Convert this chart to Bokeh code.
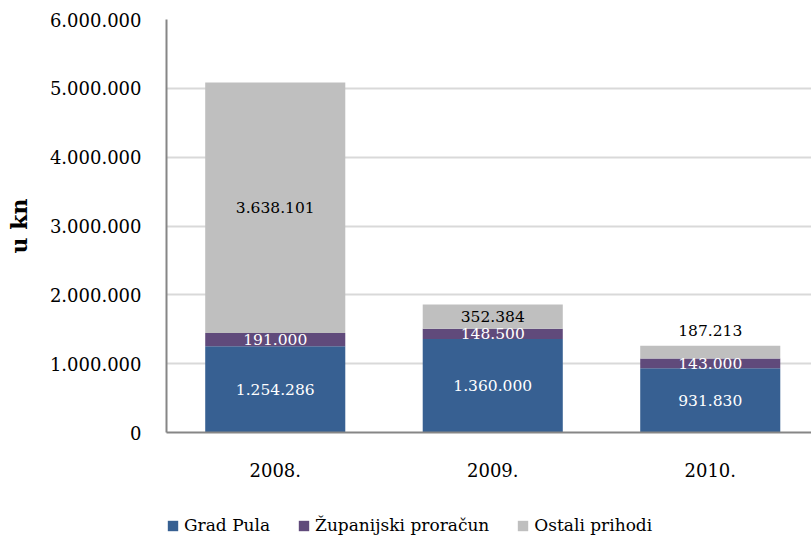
import numpy as np
from bokeh.plotting import figure
from bokeh.layouts import column
from bokeh.models import (ColumnDataSource, Range1d, FixedTicker, Legend, LegendItem)
from bokeh.core.properties import value
from bokeh.embed import file_html
from bokeh.resources import INLINE

# ---- data ----
years = ["2008.", "2009.", "2010."]
series_names = ["Grad Pula", "Županijski proračun", "Ostali prihodi"]
grad_pula = [1254286, 1360000, 931830]
zupanijski = [191000, 148500, 143000]
ostali = [3638101, 352384, 187213]
label_texts = {
    "Grad Pula": ["1.254.286", "1.360.000", "931.830"],
    "Županijski proračun": ["191.000", "148.500", "143.000"],
    "Ostali prihodi": ["3.638.101", "352.384", "187.213"],
}
y_ticks = [0, 1000000, 2000000, 3000000, 4000000, 5000000, 6000000]
y_tick_labels = ["0", "1.000.000", "2.000.000", "3.000.000", "4.000.000", "5.000.000", "6.000.000"]

colors = ["#376092", "#604A7B", "#BFBFBF"]
label_colors = ["white", "white", "black"]
FONT = "DejaVu Serif"

n = len(years)
xs = np.arange(n) + 0.5
series = [grad_pula, zupanijski, ostali]

MAIN_H = 505
p = figure(width=811, height=MAIN_H, output_backend="svg", toolbar_location=None,
           x_range=Range1d(0, 3 * 645 / 652.5), y_range=Range1d(0, 6000000),
           min_border_left=166, min_border_right=0, min_border_top=19,
           min_border_bottom=MAIN_H - 432)
p.outline_line_color = None
p.background_fill_color = "white"

bottoms = np.zeros(n)
for name, vals, col in zip(series_names, series, colors):
    vals = np.array(vals, dtype=float)
    src = ColumnDataSource(dict(x=xs, bottom=bottoms, top=bottoms + vals))
    p.vbar(x="x", bottom="bottom", top="top", width=0.644, source=src,
           fill_color=col, line_color=None)
    bottoms = bottoms + vals

# data labels
bottoms = np.zeros(n)
last = series_names[-1]
for name, vals, lc in zip(series_names, series, label_colors):
    vals = np.array(vals, dtype=float)
    centers = bottoms + vals / 2
    tops = bottoms + vals
    if name == last:
        small = vals < 200000
    else:
        small = np.zeros(n, dtype=bool)
    ys = np.where(small, tops, centers)
    offs = np.where(small, -15, 0)
    src = ColumnDataSource(dict(x=xs, y=ys, t=label_texts[name], off=offs))
    p.text(x="x", y="y", text="t", source=src, y_offset="off",
           text_font=value(FONT), text_font_size="15.5px", text_color=lc,
           text_align="center", text_baseline="middle")
    bottoms = tops

# axes
p.xaxis.ticker = FixedTicker(ticks=list(xs))
p.xaxis.major_label_overrides = {float(x): y for x, y in zip(xs, years)}
p.yaxis.ticker = FixedTicker(ticks=y_ticks)
p.yaxis.major_label_overrides = {t: l for t, l in zip(y_ticks, y_tick_labels)}

for ax in (p.xaxis, p.yaxis):
    ax.axis_line_color = "#868686"
    ax.axis_line_width = 2
    ax.major_tick_line_color = None
    ax.minor_tick_line_color = None
    ax.major_label_text_font = FONT
    ax.major_label_text_font_size = "18px"
    ax.major_label_text_color = "black"

p.xaxis.major_label_standoff = 24
p.yaxis.major_label_standoff = 19
p.yaxis.axis_label = "u kn"
p.yaxis.axis_label_text_font = FONT
p.yaxis.axis_label_text_font_style = "bold"
p.yaxis.axis_label_text_font_size = "22px"
p.yaxis.axis_label_text_color = "black"
p.yaxis.axis_label_standoff = 15

p.xgrid.grid_line_color = None
p.ygrid.grid_line_color = "#D9D9D9"
p.ygrid.grid_line_width = 2

# legend strip below the chart
LEG_H = 539 - MAIN_H
lp = figure(width=811, height=LEG_H, output_backend="svg", toolbar_location=None,
            x_range=Range1d(0, 1), y_range=Range1d(0, 1),
            x_axis_type=None, y_axis_type=None,
            min_border_left=0, min_border_right=0, min_border_top=0, min_border_bottom=0)
lp.outline_line_color = None
lp.xgrid.grid_line_color = None
lp.ygrid.grid_line_color = None
items = []
for nm, col in zip(series_names, colors):
    # one off-screen bar per series, only so that the legend has a glyph to show
    r = lp.vbar(x=[5], top=[1], width=0.5, fill_color=col, line_color=None)
    items.append(LegendItem(label=nm, renderers=[r]))
legend = Legend(items=items, orientation="horizontal", location=(0, 4),
                glyph_width=13, glyph_height=13, label_standoff=5, spacing=27,
                label_text_font=FONT, label_text_font_size="17px", label_height=20,
                label_text_color="black",
                padding=0, margin=0, border_line_color=None, background_fill_alpha=0)
lp.add_layout(legend, "center")

layout = column(p, lp, spacing=0)
open("out.html", "w").write(file_html(layout, INLINE))
